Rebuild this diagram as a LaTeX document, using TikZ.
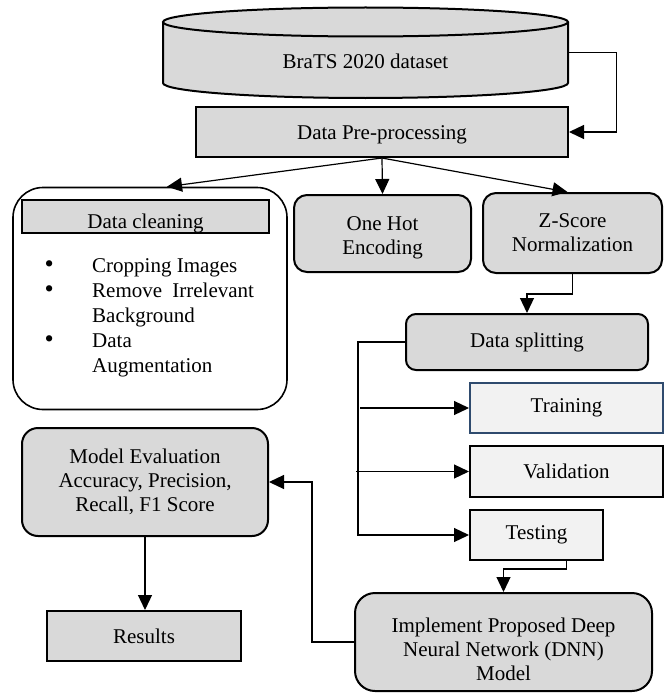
\documentclass[tikz,border=0pt]{standalone}
\usepackage{fontspec}
\setmainfont{Liberation Serif}
\usetikzlibrary{arrows.meta}
\definecolor{boxgray}{HTML}{D9D9D9}
\definecolor{boxlight}{HTML}{F2F2F2}
\definecolor{trainblue}{HTML}{2F4B6E}
\begin{document}
\begin{tikzpicture}[x=1pt,y=-1pt,
  every node/.style={font=\fontsize{21}{24}\selectfont, inner sep=0pt, align=center},
  gbox/.style={draw, line width=2pt, fill=boxgray},
  rbox/.style={gbox, rounded corners=13pt},
  lbox/.style={draw, line width=2pt, fill=boxlight},
  arr/.style={line width=1.2pt, -{Triangle[length=15pt,width=14pt]}},
  conn/.style={line width=1.2pt}
]
\useasboundingbox (0,0) rectangle (668,693);

% cylinder
\fill[boxgray] (163,22) -- (163,83) arc[start angle=180,end angle=0,x radius=202.5,y radius=15] -- (568,22) -- cycle;
\draw[line width=2pt] (163,22) -- (163,83) arc[start angle=180,end angle=0,x radius=202.5,y radius=15] -- (568,22);
\draw[line width=2pt, fill=boxgray] (365.5,22) ellipse[x radius=202.5, y radius=14.5];
\node[minimum width=405, minimum height=91] (data) at (365.5,52.5) {};
\node at ([yshift=-9pt]data.center) {BraTS 2020 dataset};

% pre-processing
\node[gbox, minimum width=372, minimum height=50] (pre) at (382,132) {};
\node at ([yshift=-3pt]pre.center) {Data Pre-processing};

% data cleaning group
\node[draw, line width=1.6pt, fill=white, rounded corners=30pt, minimum width=274, minimum height=222] (clean) at (150,298.5) {};
\filldraw[fill=boxgray, draw=black, line width=2pt] (22,200) rectangle (269,233);
\node[minimum width=247, minimum height=33] (cleanhead) at (145.5,216.5) {};
\node[anchor=base] at (145.5,228.5) {Data cleaning};
\node[anchor=north west, align=left, font=\fontsize{21}{25}\selectfont] (items) at (44.5,258)
  {\makebox[47.5pt][l]{\scalebox{1.25}{•}}Cropping Images\\
   \makebox[47.5pt][l]{\scalebox{1.25}{•}}Remove\hspace{5pt} Irrelevant\\
   \hspace*{47.5pt}Background\\
   \makebox[47.5pt][l]{\scalebox{1.25}{•}}Data\\
   \hspace*{47.5pt}Augmentation};

\node[rbox, minimum width=177, minimum height=77] (onehot) at (382.5,233.5) {};
\node at ([yshift=-4pt]onehot.center) {One Hot\\Encoding};
\node[rbox, minimum width=179, minimum height=80] (zscore) at (572.5,233) {Z-Score\\Normalization};

\node[gbox, rounded corners=10pt, minimum width=242, minimum height=56] (split) at (527,342) {Data splitting};

\node[draw=trainblue, line width=2pt, fill=boxlight, minimum width=193, minimum height=50] (training) at (566.5,408) {Training};
\node[lbox, minimum width=193, minimum height=51] (validation) at (566.5,471.5) {Validation};
\node[lbox, minimum width=133, minimum height=50] (testing) at (536.5,535) {Testing};

\node[gbox, rounded corners=20pt, minimum width=297, minimum height=98] (dnn) at (503.5,642) {};
\node at ([yshift=-7pt]dnn.center) {Implement Proposed Deep\\Neural Network (DNN)\\Model};

\node[gbox, rounded corners=16pt, minimum width=246, minimum height=108] (eval) at (145,482) {Model Evaluation\\Accuracy, Precision,\\Recall, F1 Score};
\node[gbox, minimum width=194, minimum height=50] (results) at (144,636) {Results};

\coordinate (bus) at (358,0);

% connectors
\draw[arr] (data.east) -- ++(48,0) |- (pre.east);
\draw[arr] (pre.south) -- ([xshift=17pt]clean.north);
\draw[arr] (pre.south) -- (onehot.north);
\draw[arr] (pre.south) -- ([xshift=-5pt]zscore.north);
\draw[arr] (zscore.south) -- ++(0,20) -| (split.north);
\draw[arr] (split.west) -| (bus |- testing.west) -- (testing.west);
\draw[arr] ([xshift=2pt]bus |- training.west) -- (training.west);
\draw[arr] ([xshift=-2pt]bus |- validation.west) -- (validation.west);
\draw[arr] ([xshift=30pt]testing.south) -- ++(0,8) -| (dnn.north);
\draw[arr] (dnn.west) -- ++(-42,0) |- (eval.east);
\draw[arr] (eval.south) -- (eval.south |- results.north);
\end{tikzpicture}
\end{document}
